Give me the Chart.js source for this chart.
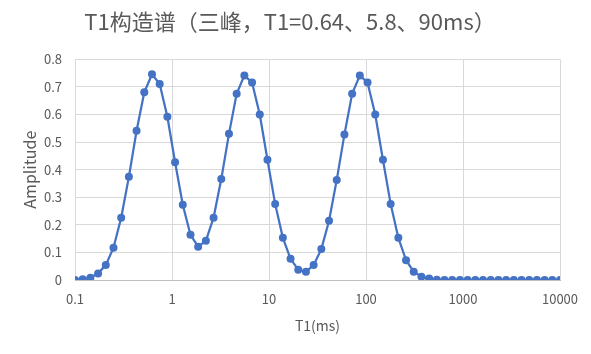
<!DOCTYPE html>
<html>

<head>
    <script src="https://cdn.jsdelivr.net/npm/chart.js@4.4.0/dist/chart.umd.min.js"></script>
    <style>
        body {
            margin: 0;
            background: #fff;
        }

        #wrap {
            width: 591px;
            height: 354px;
        }
    </style>
    <title>T1构造谱</title>
</head>

<body>
    <div id="wrap"><canvas id="myChart" width="591" height="354"></canvas></div>
    <script>
        // T1 (ms), log spaced 0.1 .. 10000
        var t1 = [0.1, 0.12, 0.1441, 0.173, 0.2077, 0.2493, 0.2993, 0.3594, 0.4313, 0.518,
            0.6218, 0.7464, 0.896, 1.0758, 1.2915, 1.5504, 1.8612, 2.2343, 2.6827, 3.2204,
            3.8663, 4.6416, 5.5721, 6.6893, 8.0301, 9.6411, 11.574, 13.895, 16.681, 20.025,
            24.04, 28.86, 34.647, 41.595, 49.934, 59.948, 71.969, 86.401, 103.72, 124.52,
            149.49, 179.47, 215.44, 258.65, 310.51, 372.76, 447.51, 537.26, 644.99, 774.26,
            929.53, 1115.9, 1339.8, 1608.4, 1930.7, 2318.0, 2782.6, 3340.5, 4010.4, 4814.6,
            5780.1, 6938.9, 8330.2, 10000];

        var amplitude = [0.000, 0.003, 0.008, 0.024, 0.054, 0.117, 0.226, 0.374, 0.541, 0.681,
            0.746, 0.711, 0.592, 0.427, 0.273, 0.164, 0.121, 0.142, 0.226, 0.366,
            0.530, 0.675, 0.742, 0.716, 0.600, 0.436, 0.276, 0.153, 0.077, 0.037,
            0.030, 0.054, 0.112, 0.215, 0.363, 0.528, 0.675, 0.742, 0.716, 0.600,
            0.436, 0.276, 0.153, 0.072, 0.030, 0.012, 0.005, 0.001, 0, 0,
            0, 0, 0, 0, 0, 0, 0, 0, 0, 0,
            0, 0, 0, 0];

        var xTicks = [0.1, 1, 10, 100, 1000, 10000];

        var points = t1.map(function (t, i) {
            return { x: t, y: amplitude[i] };
        });

        var textColor = '#595959';
        var gridColor = '#D9D9D9';
        var blue = '#4472C4';

        var ctx = document.getElementById('myChart').getContext('2d');
        var myChart = new Chart(ctx, {
            type: 'line',
            data: {
                datasets: [{
                    label: 'Amplitude',
                    data: points,
                    borderColor: blue,
                    backgroundColor: blue,
                    borderWidth: 2.25,
                    pointRadius: 4,
                    pointBorderWidth: 0,
                    pointBackgroundColor: blue,
                    tension: 0,
                    fill: false
                }]
            },
            options: {
                responsive: false,
                animation: false,
                layout: {
                    padding: { left: 20, right: 31, top: 0, bottom: 10 }
                },
                plugins: {
                    legend: { display: false },
                    tooltip: { enabled: false },
                    title: {
                        display: true,
                        text: 'T1构造谱（三峰，T1=0.64、5.8、90ms）',
                        color: textColor,
                        font: { family: '"Noto Sans CJK SC", sans-serif', size: 22, weight: 'normal' },
                        padding: { top: 8, bottom: 25 }
                    }
                },
                scales: {
                    x: {
                        type: 'logarithmic',
                        min: 0.1,
                        max: 10000,
                        afterBuildTicks: function (scale) {
                            scale.ticks = xTicks.map(function (v) { return { value: v }; });
                        },
                        afterFit: function (scale) {
                            scale.height = 64;
                        },
                        ticks: {
                            color: textColor,
                            font: { family: '"Noto Sans CJK SC", sans-serif', size: 13 },
                            padding: 11,
                            maxRotation: 0,
                            autoSkip: false,
                            callback: function (v) {
                                return String(v);
                            }
                        },
                        grid: {
                            color: gridColor,
                            lineWidth: 1,
                            drawTicks: false
                        },
                        border: { color: '#BFBFBF', width: 1 },
                        title: {
                            display: true,
                            text: 'T1(ms)',
                            color: textColor,
                            font: { family: '"Noto Sans CJK SC", sans-serif', size: 14 },
                            padding: { top: 0, bottom: 10 }
                        }
                    },
                    y: {
                        min: 0,
                        max: 0.8,
                        afterFit: function (scale) {
                            scale.width = 55;
                        },
                        ticks: {
                            stepSize: 0.1,
                            color: textColor,
                            font: { family: '"Noto Sans CJK SC", sans-serif', size: 13 },
                            padding: 13,
                            callback: function (v) {
                                return String(Math.round(v * 10) / 10);
                            }
                        },
                        grid: {
                            color: gridColor,
                            lineWidth: 1,
                            drawTicks: false
                        },
                        border: { display: false },
                        title: {
                            display: true,
                            text: 'Amplitude',
                            color: textColor,
                            font: { family: '"Noto Sans CJK SC", sans-serif', size: 16 },
                            padding: { top: 0, bottom: 0 }
                        }
                    }
                }
            }
        });
    </script>
</body>

</html>
